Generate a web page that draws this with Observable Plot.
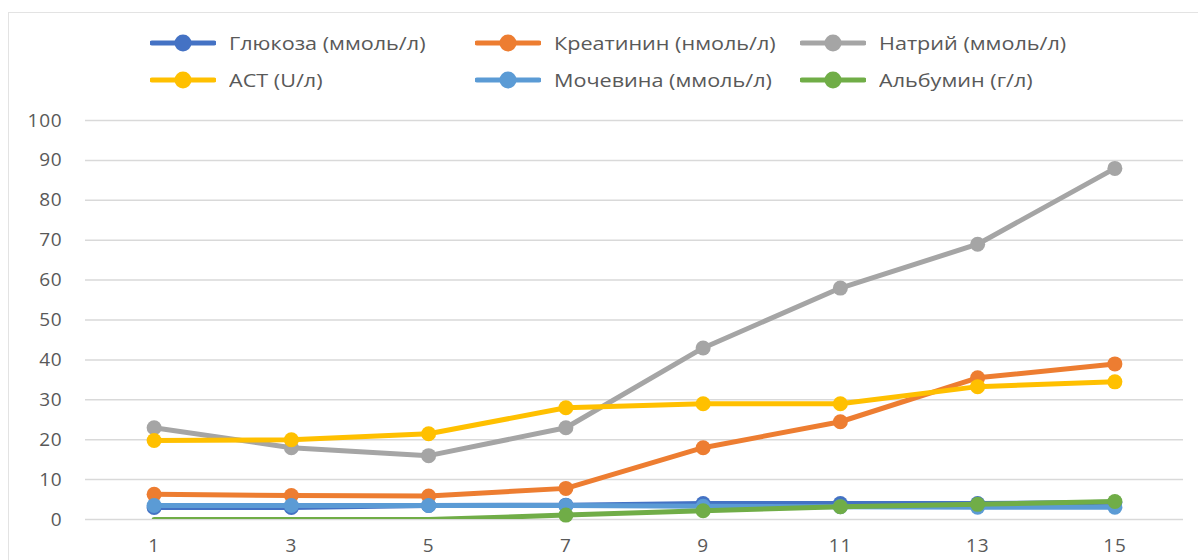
<!DOCTYPE html>
<html>
<head>
<meta charset="utf-8">
<script src="https://cdn.jsdelivr.net/npm/d3@7"></script>
<script src="https://cdn.jsdelivr.net/npm/@observablehq/plot@0.6"></script>
<style>
  html, body { margin: 0; padding: 0; background: #fff; }
  #wrap { position: relative; width: 1198px; height: 560px; overflow: hidden; font-family: "Open Sans", sans-serif; }
  #frame { position: absolute; left: 8px; top: 12px; width: 1300px; height: 700px; border: 1.5px solid #e3e3e3; box-sizing: border-box; }
  #legend { position: absolute; left: 0; top: 0; width: 1198px; height: 100px; }
  .item { position: absolute; display: flex; align-items: center; font-size: 18px; color: #595959; white-space: nowrap; }
  .item svg { margin-right: 13px; }
  .item span { display: inline-block; transform: scaleX(1.2); transform-origin: left center; }
  #chart { position: absolute; left: 0; top: 100px; }
  #chart svg text { letter-spacing: 0.8px; }
</style>
</head>
<body>
<div id="wrap">
  <div id="frame"></div>
  <div id="legend"></div>
  <div id="chart"></div>
</div>
<script>
const days = [1, 3, 5, 7, 9, 11, 13, 15];
const seriesNames = ["Глюкоза (ммоль/л)", "Креатинин (нмоль/л)", "Натрий (ммоль/л)", "АСТ (U/л)", "Мочевина (ммоль/л)", "Альбумин (г/л)"];
const seriesColors = ["#4472C4", "#ED7D31", "#A5A5A5", "#FFC000", "#5B9BD5", "#70AD47"];
const glucose    = [3.0, 3.0, 3.5, 3.6, 4.0, 4.0, 4.0, 4.3];
const creatinine = [6.3, 6.0, 5.9, 7.8, 18.0, 24.5, 35.5, 39.0];
const sodium     = [23, 18, 16, 23, 43, 58, 69, 88];
const ast        = [19.8, 20.0, 21.5, 28.0, 29.0, 29.0, 33.3, 34.5];
const urea       = [3.5, 3.5, 3.5, 3.5, 3.3, 3.2, 3.1, 3.1];
const albumin    = [0, 0, 0, 1.1, 2.2, 3.2, 3.8, 4.5];
const yTicks = [0, 10, 20, 30, 40, 50, 60, 70, 80, 90, 100];

const seriesValues = [glucose, creatinine, sodium, ast, urea, albumin];
const rows = [];
seriesNames.forEach((name, i) => {
  days.forEach((d, j) => rows.push({series: name, day: d, value: seriesValues[i][j], idx: i}));
});

// Legend
const legend = document.getElementById("legend");
const legendCols = [150, 475, 800];
const legendRows = [43, 80];
seriesNames.forEach((name, i) => {
  const div = document.createElement("div");
  div.className = "item";
  div.style.left = legendCols[i % 3] + "px";
  div.style.top = (legendRows[Math.floor(i / 3)] - 12) + "px";
  div.style.height = "24px";
  const c = seriesColors[i];
  div.innerHTML = `<svg width="66" height="24"><line x1="2" y1="12" x2="64" y2="12" stroke="${c}" stroke-width="5" stroke-linecap="round"/><circle cx="33" cy="12" r="8.5" fill="${c}"/></svg><span>${name}</span>`;
  legend.appendChild(div);
});

const chart = Plot.plot({
  width: 1198,
  height: 460,
  marginLeft: 85,
  marginRight: 15,
  marginTop: 20,
  marginBottom: 41,
  style: {fontFamily: "Open Sans, sans-serif", fontSize: "19px", color: "#595959", background: "transparent"},
  x: {domain: [0, 16], ticks: days, tickFormat: d => String(d), tickSize: 0, tickPadding: 19, label: null},
  y: {domain: [0, 100], ticks: yTicks, tickSize: 0, tickPadding: 23, label: null},
  color: {domain: seriesNames, range: seriesColors},
  marks: [
    Plot.gridY(yTicks, {stroke: "#d9d9d9", strokeOpacity: 1, strokeWidth: 1.5}),
    ...seriesNames.map((name, i) => [
      Plot.line(rows.filter(r => r.series === name), {x: "day", y: "value", stroke: seriesColors[i], strokeWidth: 5, curve: "linear", clip: true}),
      Plot.dot(rows.filter(r => r.series === name && !(name === seriesNames[5] && r.value === 0)), {x: "day", y: "value", fill: seriesColors[i], r: 7.5, stroke: "none"})
    ]).flat()
  ]
});
document.getElementById("chart").appendChild(chart);
</script>
</body>
</html>
